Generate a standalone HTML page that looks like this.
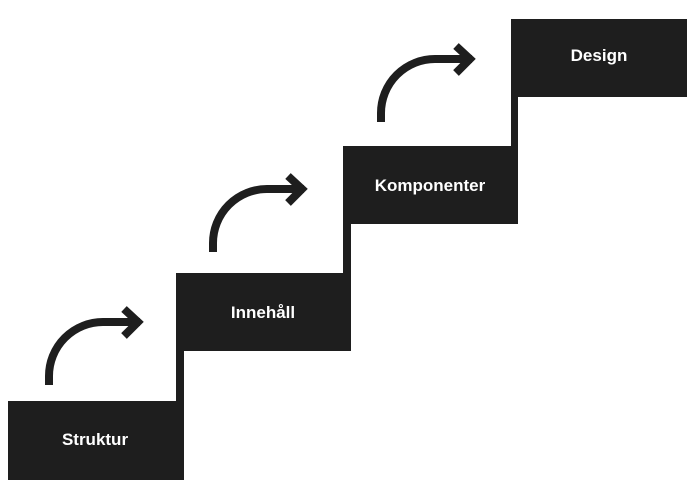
<!DOCTYPE html>
<html><head><style>
body{margin:0;background:#fff;width:700px;height:500px;overflow:hidden;}
svg{display:block}
text{font-family:"Liberation Sans",sans-serif;font-weight:bold;font-size:17px;fill:#fff;text-anchor:middle;}
</style></head><body>
<svg width="700" height="500" viewBox="0 0 700 500">
<g fill="#1e1e1e">
<rect x="8" y="401" width="176" height="79"/>
<rect x="176" y="273" width="175" height="78"/>
<rect x="176" y="345" width="8" height="60"/>
<rect x="343" y="146" width="175" height="78"/>
<rect x="343" y="218" width="8" height="60"/>
<rect x="511" y="19" width="176" height="78"/>
<rect x="511" y="90" width="7" height="60"/>
</g>
<g fill="none" stroke="#1e1e1e" stroke-width="8">
<g id="a">
<path d="M49,385 L49,376 A54,54 0 0 1 103,322 L140,322"/>
<path d="M124,309 L138,322 L124,336" stroke-linejoin="miter"/>
</g>
<use href="#a" transform="translate(164,-133)"/>
<use href="#a" transform="translate(332,-263)"/>
</g>
<text x="95" y="445">Struktur</text>
<text x="263" y="318">Innehåll</text>
<text x="430" y="191">Komponenter</text>
<text x="599" y="61">Design</text>
</svg>
</body></html>
